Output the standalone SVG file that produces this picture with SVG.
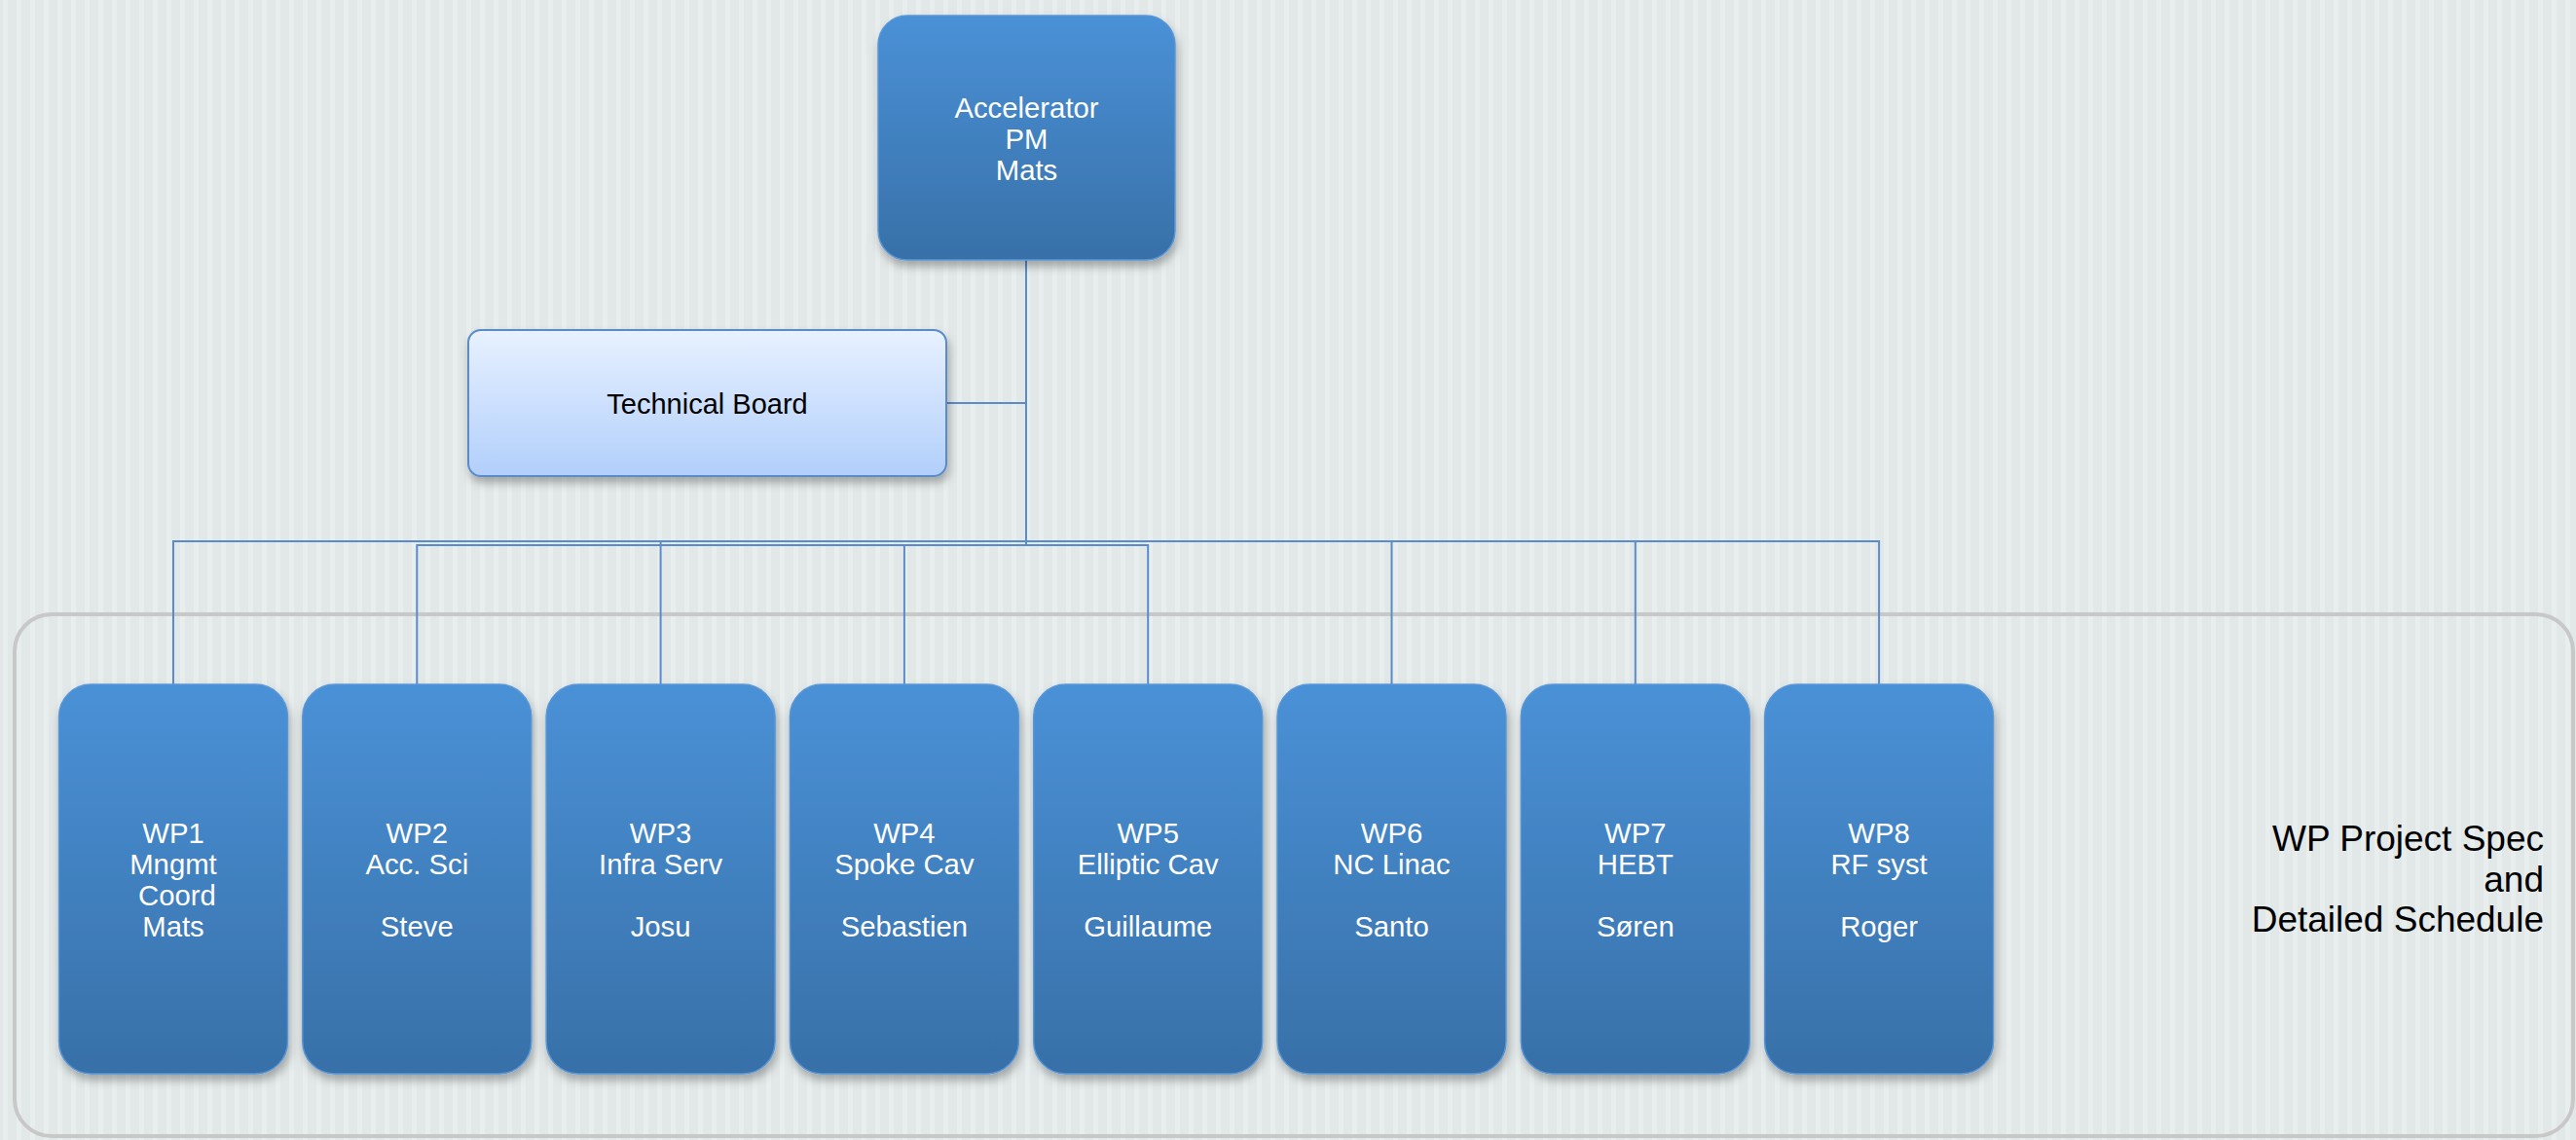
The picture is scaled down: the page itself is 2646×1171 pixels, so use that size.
<svg xmlns="http://www.w3.org/2000/svg" width="2646" height="1171" viewBox="0 0 2646 1171">
<defs>
<linearGradient id="gBlue" x1="0" y1="0" x2="0" y2="1">
<stop offset="0" stop-color="#4a91d7"/>
<stop offset="1" stop-color="#3870a8"/>
</linearGradient>
<linearGradient id="gLight" x1="0" y1="0" x2="0" y2="1">
<stop offset="0" stop-color="#e8f1ff"/>
<stop offset="1" stop-color="#b1cffb"/>
</linearGradient>
<pattern id="stripes" x="0" y="0" width="14" height="1171" patternUnits="userSpaceOnUse">
<rect x="0" y="0" width="14" height="1171" fill="#e2e8e8"/>
<rect x="3" y="0" width="5" height="1171" fill="#e8eded"/>
</pattern>
<filter id="shadow" x="-10%" y="-10%" width="125%" height="125%">
<feDropShadow dx="2" dy="6" stdDeviation="5" flood-color="#000" flood-opacity="0.3"/>
</filter>
</defs>
<style>
.bg{fill:url(#stripes);}
.box{fill:url(#gBlue);stroke:#5a96d6;stroke-width:1.5;filter:url(#shadow);}
.tb{fill:url(#gLight);stroke:#5b8bc7;stroke-width:2;filter:url(#shadow);}
.wt{font-family:"Liberation Sans",Arial,sans-serif;font-size:29.3px;fill:#ffffff;text-anchor:middle;}
.bt{font-family:"Liberation Sans",Arial,sans-serif;font-size:29px;fill:#000000;text-anchor:middle;}
.rt{font-family:"Liberation Sans",Arial,sans-serif;font-size:37px;fill:#000000;text-anchor:end;}
.conn{fill:none;stroke:#5a8ccc;stroke-width:2;}
.frame{fill:none;stroke:#c8c8c8;stroke-width:4;}
</style>
<rect class="bg" x="0" y="0" width="2646" height="1171"/>
<rect class="frame" x="15" y="631" width="2628" height="536" rx="38" ry="38"/>
<g id="connectors">
<path class="conn" d="M972,414 H1054"/>
<path class="conn" d="M1054,267 V556 H178 V703"/>
<path class="conn" d="M1054,267 V560 H428.3 V703"/>
<path class="conn" d="M1054,267 V556 H678.6 V703"/>
<path class="conn" d="M1054,267 V560 H928.9 V703"/>
<path class="conn" d="M1054,267 V560 H1179.2 V703"/>
<path class="conn" d="M1054,267 V556 H1429.5 V703"/>
<path class="conn" d="M1054,267 V556 H1679.8 V703"/>
<path class="conn" d="M1054,267 V556 H1930.1 V703"/>
</g>
<g id="accelerator-pm">
<rect class="box" x="902" y="16" width="305" height="251" rx="30" ry="30"/>
<text class="wt" x="1054.5" y="121">Accelerator</text>
<text class="wt" x="1054.5" y="153">PM</text>
<text class="wt" x="1054.5" y="185">Mats</text>
</g>
<g id="technical-board">
<rect class="tb" x="481" y="339" width="491" height="150" rx="13" ry="13"/>
<text class="bt" x="726.5" y="424.5">Technical Board</text>
</g>
<g id="wp1">
<rect class="box" x="60.5" y="703" width="235" height="400" rx="33" ry="33"/>
<text class="wt" x="178" y="866">WP1</text>
<text class="wt" x="178" y="898">Mngmt</text>
<text class="wt" x="182" y="930">Coord</text>
<text class="wt" x="178" y="962">Mats</text>
</g>
<g id="wp2">
<rect class="box" x="310.8" y="703" width="235" height="400" rx="33" ry="33"/>
<text class="wt" x="428.3" y="866">WP2</text>
<text class="wt" x="428.3" y="898">Acc. Sci</text>
<text class="wt" x="428.3" y="962">Steve</text>
</g>
<g id="wp3">
<rect class="box" x="561.1" y="703" width="235" height="400" rx="33" ry="33"/>
<text class="wt" x="678.6" y="866">WP3</text>
<text class="wt" x="678.6" y="898">Infra Serv</text>
<text class="wt" x="678.6" y="962">Josu</text>
</g>
<g id="wp4">
<rect class="box" x="811.4" y="703" width="235" height="400" rx="33" ry="33"/>
<text class="wt" x="928.9" y="866">WP4</text>
<text class="wt" x="928.9" y="898">Spoke Cav</text>
<text class="wt" x="928.9" y="962">Sebastien</text>
</g>
<g id="wp5">
<rect class="box" x="1061.7" y="703" width="235" height="400" rx="33" ry="33"/>
<text class="wt" x="1179.2" y="866">WP5</text>
<text class="wt" x="1179.2" y="898">Elliptic Cav</text>
<text class="wt" x="1179.2" y="962">Guillaume</text>
</g>
<g id="wp6">
<rect class="box" x="1312" y="703" width="235" height="400" rx="33" ry="33"/>
<text class="wt" x="1429.5" y="866">WP6</text>
<text class="wt" x="1429.5" y="898">NC Linac</text>
<text class="wt" x="1429.5" y="962">Santo</text>
</g>
<g id="wp7">
<rect class="box" x="1562.3" y="703" width="235" height="400" rx="33" ry="33"/>
<text class="wt" x="1679.8" y="866">WP7</text>
<text class="wt" x="1679.8" y="898">HEBT</text>
<text class="wt" x="1679.8" y="962">Søren</text>
</g>
<g id="wp8">
<rect class="box" x="1812.6" y="703" width="235" height="400" rx="33" ry="33"/>
<text class="wt" x="1930.1" y="866">WP8</text>
<text class="wt" x="1930.1" y="898">RF syst</text>
<text class="wt" x="1930.1" y="962">Roger</text>
</g>
<g id="wp-spec-label">
<text class="rt" x="2613" y="874">WP Project Spec</text>
<text class="rt" x="2613" y="915.5">and</text>
<text class="rt" x="2613" y="957">Detailed Schedule</text>
</g>
</svg>
